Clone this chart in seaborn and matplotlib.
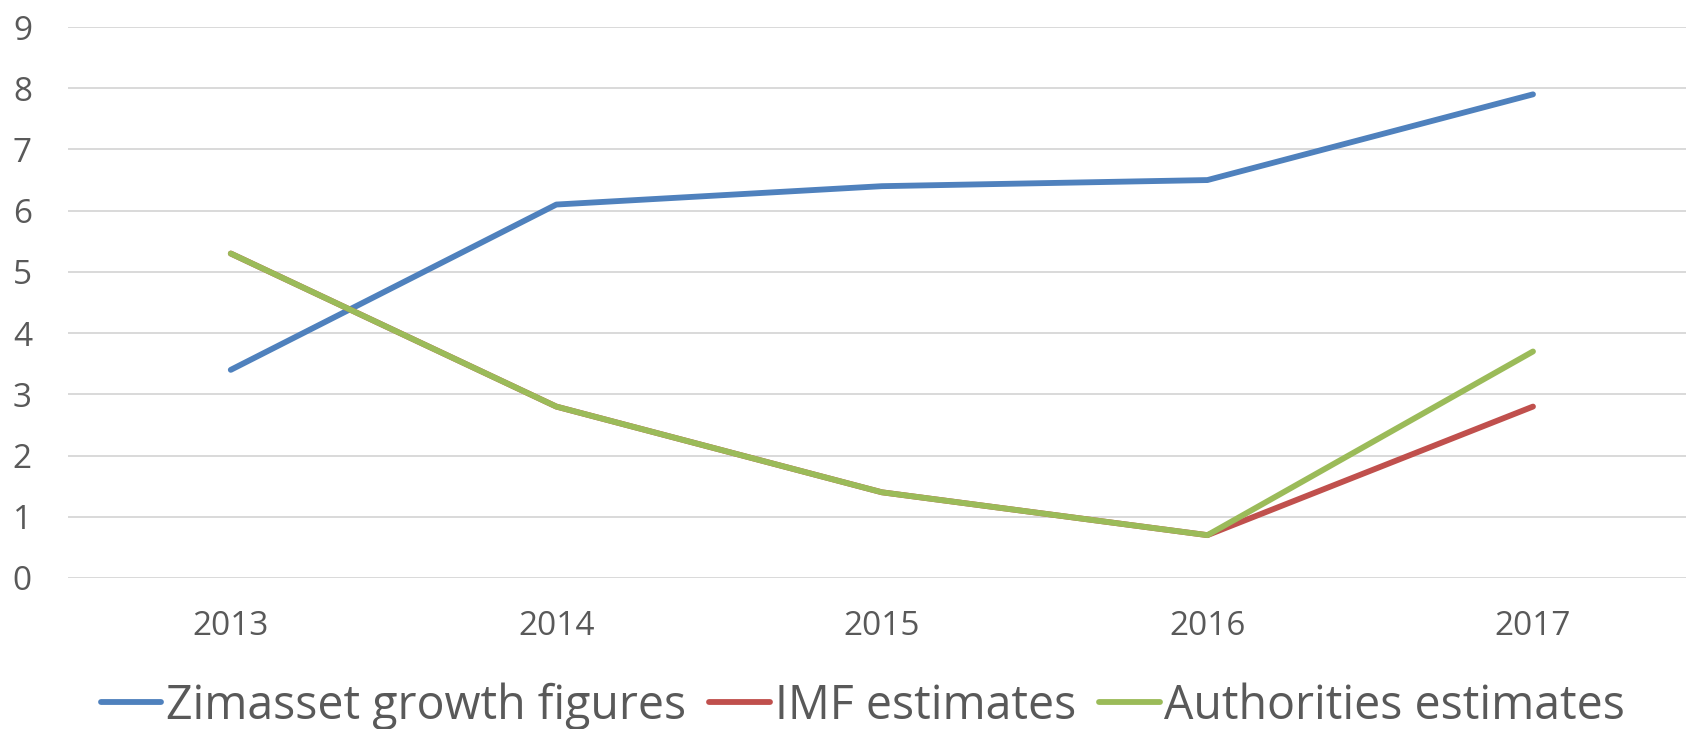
import numpy as np
import pandas as pd
import matplotlib
matplotlib.use("Agg")
import matplotlib.pyplot as plt
import seaborn as sns

years = ["2013", "2014", "2015", "2016", "2017"]
zimasset = [3.4, 6.1, 6.4, 6.5, 7.9]
imf = [5.3, 2.8, 1.4, 0.7, 2.8]
authorities = [5.3, 2.8, 1.4, 0.7, 3.7]

series_names = ["Zimasset growth figures", "IMF estimates", "Authorities estimates"]
colors = ["#4f81bd", "#c0504d", "#9bbb59"]

df = pd.concat([
    pd.DataFrame({"year": years, "value": vals, "series": name})
    for name, vals in zip(series_names, [zimasset, imf, authorities])
])
df["x"] = df["year"].map({y: i for i, y in enumerate(years)})

sns.set_theme(style="white")
plt.rcParams["font.family"] = ["Open Sans", "DejaVu Sans"]

fig = plt.figure(figsize=(16.86, 7.29), dpi=100)
ax = fig.add_axes([68 / 1686, 1 - 578 / 729, (1686 - 68) / 1686, (578 - 27) / 729])

sns.lineplot(data=df, x="x", y="value", hue="series", hue_order=series_names,
             palette=colors, linewidth=4.2, ax=ax, legend=False,
             solid_capstyle="round")

ax.set_xlim(-0.5, 4.47)
ax.set_ylim(0, 9)
ax.set_yticks(range(0, 10))
ax.set_xticks(range(len(years)))
ax.set_xticklabels(years)
ax.set_xlabel("")
ax.set_ylabel("")
ax.grid(axis="y", color="#d9d9d9", linewidth=1.4)
ax.set_axisbelow(True)
for s in ax.spines.values():
    s.set_visible(False)
ax.tick_params(axis="both", length=0, labelsize=24, labelcolor="#595959")
ax.tick_params(axis="y", pad=26)
ax.tick_params(axis="x", pad=23)

handles = [plt.Line2D([], [], color=c, linewidth=4.2, solid_capstyle="round") for c in colors]
fig.legend(handles, series_names, loc="center", bbox_to_anchor=(863 / 1686, 1 - 706 / 729),
           ncol=3, frameon=False, fontsize=33.5, labelcolor="#595959",
           handlelength=1.3, handletextpad=0.1, columnspacing=0.5,
           borderaxespad=0, borderpad=0)

fig.savefig("out.png", dpi=100)
